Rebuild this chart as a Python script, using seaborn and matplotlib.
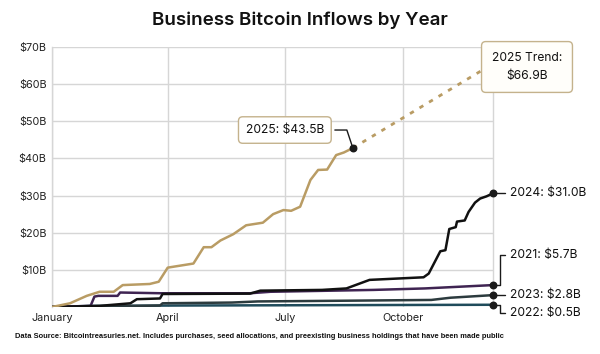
import matplotlib
matplotlib.use("Agg")
import matplotlib.pyplot as plt
import seaborn as sns
import pandas as pd
import numpy as np

# ---------------- data (day of year, cumulative $B) ----------------
days_2025 = [0, 14, 27, 37, 48, 55, 76, 83, 90, 110, 118, 124, 131, 141, 151, 164, 172, 180, 186, 193, 201, 207, 214, 221, 227, 234]
vals_2025 = [0, 1.0, 3.0, 4.1, 4.1, 5.9, 6.2, 6.8, 10.6, 11.7, 16.1, 16.1, 17.9, 19.6, 22.0, 22.7, 25.0, 26.1, 25.9, 27.0, 34.2, 36.9, 37.0, 40.9, 41.6, 42.8]

trend_days = [234, 343]
trend_vals = [42.8, 65.5]

days_2024 = [0, 37, 61, 66, 84, 86, 154, 162, 210, 229, 247, 289, 293, 302, 306, 309, 314, 315, 321, 324, 329, 333, 338, 343]
vals_2024 = [0, 0.3, 1.0, 2.1, 2.3, 3.5, 3.6, 4.4, 4.6, 5.0, 7.3, 8.0, 9.0, 15.0, 15.3, 21.0, 21.5, 23.0, 23.3, 25.6, 28.1, 29.2, 29.8, 30.6]

days_2021 = [0, 30, 33, 36, 51, 53, 85, 154, 170, 250, 290, 343]
vals_2021 = [0, 0.3, 2.8, 3.0, 3.0, 3.9, 3.7, 3.7, 4.1, 4.6, 5.0, 5.9]

days_2023 = [0, 50, 84, 86, 140, 160, 230, 295, 310, 343]
vals_2023 = [0, 0.2, 0.4, 1.0, 1.2, 1.5, 1.7, 1.9, 2.5, 3.2]

days_2022 = [0, 30, 100, 343]
vals_2022 = [0, 0.3, 0.4, 0.6]

end_labels = {"2024": "2024: $31.0B", "2021": "2021: $5.7B", "2023": "2023: $2.8B", "2022": "2022: $0.5B"}
label_2025 = "2025: $43.5B"
label_trend = "2025 Trend:\n$66.9B"

month_ticks = [0, 90, 181, 273]
month_labels = ["January", "April", "July", "October"]
y_ticks = [10, 20, 30, 40, 50, 60, 70]
y_labels = ["$10B", "$20B", "$30B", "$40B", "$50B", "$60B", "$70B"]

title = "Business Bitcoin Inflows by Year"
footnote = "Data Source: Bitcointreasuries.net. Includes purchases, seed allocations, and preexisting business holdings that have been made public"

colors = {"2025": "#b99c64", "2024": "#111111", "2021": "#3f2452", "2023": "#2c3b3e", "2022": "#1f4b5b"}

# ---------------- build frame ----------------
frames = []
for yr, d, v in [("2022", days_2022, vals_2022), ("2023", days_2023, vals_2023),
                 ("2021", days_2021, vals_2021), ("2024", days_2024, vals_2024),
                 ("2025", days_2025, vals_2025)]:
    frames.append(pd.DataFrame({"day": d, "value": v, "year": yr}))
df = pd.concat(frames, ignore_index=True)
trend_df = pd.DataFrame({"day": trend_days, "value": trend_vals})

sns.set_style("white")
plt.rcParams["font.family"] = ["Inter", "DejaVu Sans"]

W, H = 600, 354
fig = plt.figure(figsize=(W / 100, H / 100), dpi=100)
L, R, T, B = 52, 493, 47, 307
ax = fig.add_axes([L / W, 1 - B / H, (R - L) / W, (B - T) / H])

grid_c = "#d6d6d6"
for y in y_ticks:
    ax.axhline(y, color=grid_c, lw=1, zorder=0)
for x in month_ticks:
    ax.axvline(x, color=grid_c, lw=1, zorder=0)

sns.lineplot(data=trend_df, x="day", y="value", ax=ax, color=colors["2025"],
             lw=2, linestyle=(0, (1.6, 2.4)), zorder=2)
for yr in ["2022", "2023", "2021", "2024", "2025"]:
    sub = df[df.year == yr]
    sns.lineplot(data=sub, x="day", y="value", ax=ax, color=colors[yr], lw=1.8,
                 zorder=3, estimator=None, sort=False)

ax.set_xlim(0, 343)
ax.set_ylim(0, 70)
ax.set_xticks(month_ticks)
ax.set_xticklabels(month_labels, fontsize=7.8, color="#222222")
ax.set_yticks(y_ticks)
ax.set_yticklabels(y_labels, fontsize=7.8, color="#222222")
ax.tick_params(length=0, pad=4)
ax.set_xlabel("")
ax.set_ylabel("")
for s in ["top", "bottom"]:
    ax.spines[s].set_visible(False)
for s in ["left", "right"]:
    ax.spines[s].set_color(grid_c)
    ax.spines[s].set_linewidth(1)

# endpoints
ends = {}
for yr, d, v in [("2025", days_2025, vals_2025), ("2024", days_2024, vals_2024),
                 ("2021", days_2021, vals_2021), ("2023", days_2023, vals_2023),
                 ("2022", days_2022, vals_2022)]:
    ends[yr] = (d[-1], v[-1])
    ax.scatter([d[-1]], [v[-1]], s=22, color="#1a1a1a", zorder=5, clip_on=False)

def pix(pt):
    x, y = ax.transData.transform(pt)
    return x, y

def connector(yr, offsets):
    x0, y0 = pix(ends[yr])
    pts = [(x0 + dx, y0 + dy) for dx, dy in offsets]
    inv = ax.transData.inverted()
    dpts = inv.transform(pts)
    ax.plot(dpts[:, 0], dpts[:, 1], color="#1a1a1a", lw=1, clip_on=False, zorder=4)
    return pts[-1]

fs = 8.7
p = connector("2024", [(0, 0), (12, 0)])
fig.text((p[0] + 5) / W, p[1] / H, end_labels["2024"], fontsize=fs, va="center", ha="left", color="#111")
p = connector("2021", [(0, 0), (7, 0), (7, 30), (12, 30)])
fig.text((p[0] + 5) / W, p[1] / H, end_labels["2021"], fontsize=fs, va="center", ha="left", color="#111")
p = connector("2023", [(0, 0), (12, 0)])
fig.text((p[0] + 5) / W, p[1] / H, end_labels["2023"], fontsize=fs, va="center", ha="left", color="#111")
p = connector("2022", [(0, 0), (7, 0), (7, -8), (12, -8)])
fig.text((p[0] + 5) / W, p[1] / H, end_labels["2022"], fontsize=fs, va="center", ha="left", color="#111")

# 2025 label box
p = connector("2025", [(0, 0), (-6, 18), (-18, 18)])
box = dict(boxstyle="round,pad=0.6,rounding_size=0.35", fc="white", ec="#c4b28c", lw=1)
fig.text((p[0] - 50) / W, p[1] / H, label_2025, fontsize=fs, ha="center", va="center",
         color="#111", bbox=box, zorder=6)
# trend box
fig.text(527 / W, 1 - 67 / H, label_trend, fontsize=fs, ha="center", va="center",
         color="#111", linespacing=1.7,
         bbox=dict(boxstyle="round,pad=0.85,rounding_size=0.35", fc="#fffefa", ec="#c4b28c", lw=1), zorder=6)

fig.text(0.5, 1 - 20 / H, title, fontsize=13.5, fontweight="semibold", ha="center", va="center", color="#111")

# footnote: fit to reference width
foot = fig.text(15 / W, 1 - 336 / H, footnote, fontsize=6.0, fontweight="bold", ha="left", va="center",
                color="#111", family=["Liberation Sans", "DejaVu Sans"])
fig.canvas.draw()
wpx = foot.get_window_extent().width
foot.set_fontsize(6.0 * 495 / wpx)

fig.savefig("out.png", dpi=100)
